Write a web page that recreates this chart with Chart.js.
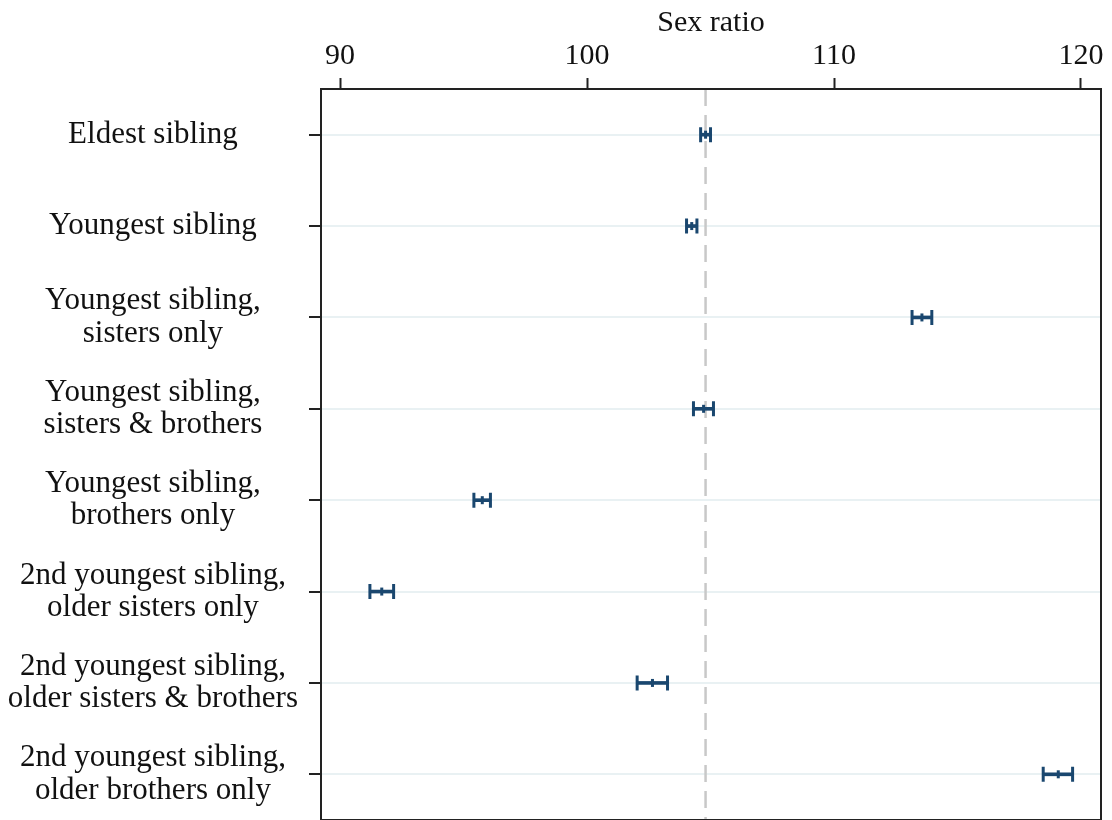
<!DOCTYPE html>
<html>
<head>
<meta charset="utf-8">
<script src="https://cdn.jsdelivr.net/npm/chart.js@4/dist/chart.umd.min.js"></script>
<style>
  body { margin: 0; background: #fff; }
  #wrap { width: 1112px; height: 820px; }
</style>
</head>
<body>
<div id="wrap"><canvas id="ratio-plot" width="1112" height="820"></canvas></div>
<script>
const categories = [
  'Eldest sibling',
  'Youngest sibling',
  ['Youngest sibling,', 'sisters only'],
  ['Youngest sibling,', 'sisters & brothers'],
  ['Youngest sibling,', 'brothers only'],
  ['2nd youngest sibling,', 'older sisters only'],
  ['2nd youngest sibling,', 'older sisters & brothers'],
  ['2nd youngest sibling,', 'older brothers only']
];
const estimates = [104.8, 104.24, 113.56, 104.72, 95.76, 91.69, 102.65, 119.08];
const lower = [104.6, 104.03, 113.16, 104.31, 95.42, 91.21, 102.03, 118.47];
const upper = [105.0, 104.45, 113.96, 105.12, 96.09, 92.17, 103.26, 119.66];
const xTicks = [90, 100, 110, 120];
const referenceValue = 104.8;

const navy = '#1a476f';

const framePlugin = {
  id: 'frame',
  beforeDatasetsDraw(chart) {
    const { ctx, chartArea, scales } = chart;
    const x = scales.x.getPixelForValue(referenceValue);
    ctx.save();
    ctx.strokeStyle = '#c8c8c8';
    ctx.lineWidth = 2.5;
    ctx.setLineDash([17, 9]);
    ctx.beginPath();
    ctx.moveTo(x, chartArea.top);
    ctx.lineTo(x, chartArea.bottom);
    ctx.stroke();
    ctx.restore();
  },
  afterDraw(chart) {
    const { ctx, chartArea } = chart;
    ctx.save();
    ctx.strokeStyle = '#222';
    ctx.lineWidth = 2;
    ctx.strokeRect(chartArea.left, chartArea.top,
      chartArea.right - chartArea.left, chartArea.bottom - chartArea.top);
    ctx.restore();
  }
};

Chart.defaults.font.family = '"Liberation Serif", "Times New Roman", serif';
Chart.defaults.color = '#111';

const ctx = document.getElementById('ratio-plot').getContext('2d');
new Chart(ctx, {
  type: 'bar',
  data: {
    labels: categories,
    datasets: [
      {
        type: 'bar',
        data: lower.map((lo, i) => [lo, upper[i]]),
        backgroundColor: navy,
        borderWidth: 0,
        barThickness: 3
      },
      {
        type: 'line',
        data: lower,
        showLine: false,
        pointStyle: 'line',
        rotation: 90,
        pointRadius: 7.5,
        borderColor: navy,
        borderWidth: 3
      },
      {
        type: 'line',
        data: upper,
        showLine: false,
        pointStyle: 'line',
        rotation: 90,
        pointRadius: 7.5,
        borderColor: navy,
        borderWidth: 3
      },
      {
        type: 'line',
        data: estimates,
        showLine: false,
        pointStyle: 'line',
        rotation: 90,
        pointRadius: 4,
        borderColor: navy,
        borderWidth: 3
      }
    ]
  },
  options: {
    indexAxis: 'y',
    responsive: false,
    animation: false,
    layout: { autoPadding: false, padding: { left: 0, right: 11, top: 0, bottom: 0 } },
    plugins: {
      legend: { display: false },
      tooltip: { enabled: false }
    },
    scales: {
      x: {
        position: 'top',
        min: 89.23,
        max: 120.81,
        afterBuildTicks: scale => { scale.ticks = xTicks.map(v => ({ value: v })); },
        afterFit: scale => {
          scale.height = 89;
          scale.paddingLeft = 0;
          scale.paddingRight = 0;
        },
        title: {
          display: true,
          text: 'Sex ratio',
          font: { size: 30 },
          padding: { top: 5, bottom: 0 }
        },
        ticks: { font: { size: 30 }, padding: 4, maxRotation: 0 },
        border: { display: false },
        grid: {
          drawOnChartArea: false,
          tickLength: 11,
          tickColor: '#222',
          tickWidth: 2
        }
      },
      y: {
        position: 'left',
        afterFit: scale => {
          scale.width = 321;
          scale.paddingTop = 0;
          scale.paddingBottom = 0;
        },
        ticks: {
          font: { size: 31, lineHeight: 1.04 },
          crossAlign: 'center',
          padding: 11
        },
        border: { display: false },
        grid: {
          offset: false,
          color: '#e9f1f3',
          lineWidth: 2,
          tickLength: 12,
          tickColor: '#222',
          tickWidth: 2
        }
      }
    }
  },
  plugins: [framePlugin]
});
</script>
</body>
</html>
